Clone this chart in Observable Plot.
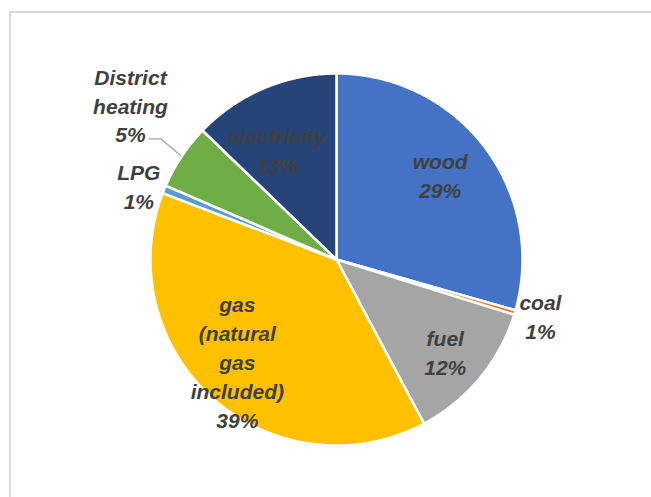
<!DOCTYPE html>
<html>
<head>
<meta charset="utf-8">
<script src="https://cdn.jsdelivr.net/npm/d3@7"></script>
<script src="https://cdn.jsdelivr.net/npm/@observablehq/plot@0.6"></script>
<style>
  html, body { margin: 0; padding: 0; background: #fff; overflow: hidden; }
  #wrap { position: relative; width: 651px; height: 497px; overflow: hidden; }
  #frame { position: absolute; left: 9px; top: 11px; width: 700px; height: 600px;
           border: 2px solid #d9d9d9; pointer-events: none; box-sizing: border-box; }
</style>
</head>
<body>
<div id="wrap"><div id="chart"></div><div id="frame"></div></div>
<script>
// ---- data ----
const categories = ["wood", "coal", "fuel", "gas (natural gas included)", "LPG", "District heating", "electricity"];
const shares = [29.4, 0.4, 12.4, 38.6, 0.7, 5.7, 12.8];
const labelTexts = ["wood\n29%", "coal\n1%", "fuel\n12%", "gas\n(natural\ngas\nincluded)\n39%", "LPG\n1%", "District\nheating\n5%", "electricity\n13%"];
const colors = ["#4472C4", "#ED7D31", "#A5A5A5", "#FFC000", "#5B9BD5", "#70AD47", "#264478"];

// ---- layout ----
const W = 651, H = 497;
const cx = 336, cy = 259, R = 186;
// label anchor: [angle (deg, clockwise from top), distance from centre]
const labelPolar = [[50.7, 134], [105.4, 211.5], [130, 142], [224.3, 142], [290.5, 211], [307, 258], [331.8, 125]];
const leaderFor = "District heating";

const arcs = d3.pie().sort(null).value(d => d)(shares);

// slice outlines as closed polygons
const slicePts = [];
arcs.forEach((a, i) => {
  const cat = categories[i];
  slicePts.push({cat, x: 0, y: 0});
  const n = Math.max(2, Math.ceil((a.endAngle - a.startAngle) / (Math.PI / 360)));
  for (let k = 0; k <= n; k++) {
    const t = a.startAngle + (a.endAngle - a.startAngle) * k / n;
    slicePts.push({cat, x: R * Math.sin(t), y: -R * Math.cos(t)});
  }
  slicePts.push({cat, x: 0, y: 0});
});

const labels = categories.map((cat, i) => {
  const [ang, dist] = labelPolar[i];
  const t = ang * Math.PI / 180;
  return {cat, text: labelTexts[i], x: dist * Math.sin(t), y: -dist * Math.cos(t)};
});

// leader line for District heating
const li = categories.indexOf(leaderFor);
const mid = (arcs[li].startAngle + arcs[li].endAngle) / 2;
const ex = (R + 1) * Math.sin(mid), ey = -(R + 1) * Math.cos(mid);
const leader = [
  {x: ex - 32, y: ey - 17},
  {x: ex - 20, y: ey - 17},
  {x: ex, y: ey}
];

const chart = Plot.plot({
  width: W,
  height: H,
  margin: 0,
  x: {domain: [-cx, W - cx], range: [0, W], axis: null},
  y: {domain: [-cy, H - cy], range: [0, H], axis: null},
  color: {domain: categories, range: colors},
  marks: [
    Plot.line(slicePts, {x: "x", y: "y", z: "cat", fill: "cat", stroke: "white", strokeWidth: 2.5, strokeLinejoin: "miter", curve: "linear"}),
    Plot.line(leader, {x: "x", y: "y", stroke: "#a6a6a6", strokeWidth: 1.3}),
    Plot.text(labels, {
      x: "x", y: "y", text: "text",
      fontFamily: "Liberation Sans", fontSize: 21, fontWeight: "bold", fontStyle: "italic",
      fill: "#404040", lineHeight: 1.38, textAnchor: "middle"
    })
  ]
});
document.getElementById("chart").appendChild(chart);
</script>
</body>
</html>
